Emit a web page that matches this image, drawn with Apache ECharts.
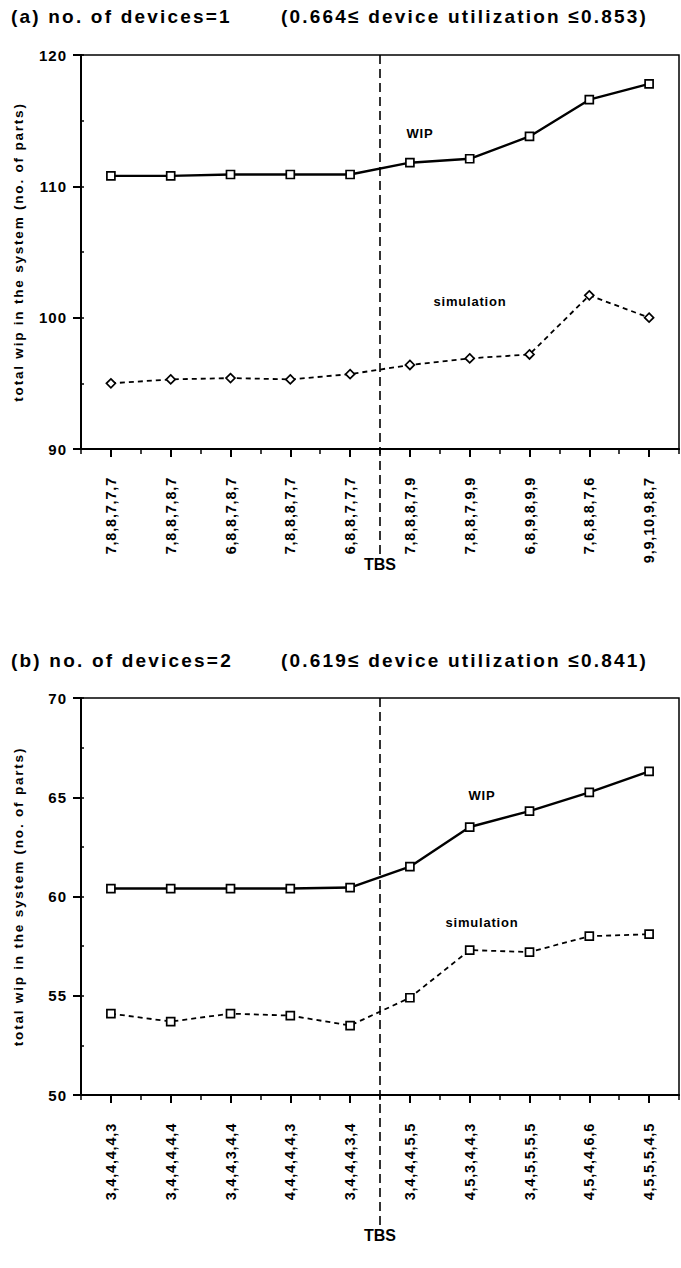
<!DOCTYPE html>
<html>
<head>
<meta charset="utf-8">
<script src="https://cdn.jsdelivr.net/npm/echarts@6/dist/echarts.min.js"></script>
<style>
  html, body { margin: 0; padding: 0; background: #fff; }
  #chart { width: 681px; height: 1268px; }
</style>
</head>
<body>
<div id="chart"></div>
<script>
// TBS configurations (one per evaluated point)
const catsA = ['7,8,8,7,7,7', '7,8,8,7,8,7', '6,8,8,7,8,7', '7,8,8,8,7,7', '6,8,8,7,7,7',
               '7,8,8,8,7,9', '7,8,8,7,9,9', '6,8,9,8,9,9', '7,6,8,8,7,6', '9,9,10,9,8,7'];
const catsB = ['3,4,4,4,4,3', '3,4,4,4,4,4', '3,4,4,3,4,4', '4,4,4,4,4,3', '3,4,4,4,3,4',
               '3,4,4,4,5,5', '4,5,3,4,4,3', '3,4,5,5,5,5', '4,5,4,4,6,6', '4,5,5,5,4,5'];

// total WIP in the system (no. of parts)
const wipA = [110.8, 110.8, 110.9, 110.9, 110.9, 111.8, 112.1, 113.8, 116.6, 117.8];
const simA = [95.0, 95.3, 95.4, 95.3, 95.7, 96.4, 96.9, 97.2, 101.7, 100.0];
const wipB = [60.4, 60.4, 60.4, 60.4, 60.45, 61.5, 63.5, 64.3, 65.25, 66.3];
const simB = [54.1, 53.7, 54.1, 54.0, 53.5, 54.9, 57.3, 57.2, 58.0, 58.1];

// y-axis ranges
const yRangeA = { min: 90, max: 120, interval: 10 };
const yRangeB = { min: 50, max: 70, interval: 5 };

const FONT = '"Liberation Sans", Arial, Helvetica, sans-serif';
const INK = '#000';

// tracking (letter spacing, px) applied per font size once the SVG is drawn
const TRACKING = { 19: 2.2, 15: 1.0, 14.5: 0.8, 13.5: 1.8, 13: 0.8, 16: 0 };

const chart = echarts.init(document.getElementById('chart'), null, { renderer: 'svg' });

const grids = [
  { left: 81, top: 55, width: 598, height: 394 },
  { left: 81, top: 698, width: 598, height: 397 }
];

function catAxes(gridIndex, cats) {
  return [
    {
      type: 'category', gridIndex, data: cats, boundaryGap: true, position: 'bottom',
      axisLine: { show: true, onZero: false, lineStyle: { color: INK, width: 2 } },
      axisTick: { show: true, interval: 0, inside: false, alignWithLabel: true, length: 8, lineStyle: { color: INK, width: 2 } },
      axisLabel: {
        show: true, rotate: 90, margin: 28, color: INK, fontFamily: FONT,
        fontWeight: 'bold', fontSize: 14.5, interval: 0
      },
      splitLine: { show: false }
    },
    {
      // short ticks between configurations
      type: 'category', gridIndex, data: cats, boundaryGap: true, position: 'bottom',
      axisLine: { show: false, onZero: false },
      axisTick: { show: true, interval: 0, inside: false, length: 5, lineStyle: { color: INK, width: 1.5 } },
      axisLabel: { show: false },
      splitLine: { show: false }
    }
  ];
}

function valAxes(gridIndex, r) {
  return [
    {
      type: 'value', gridIndex, position: 'left', min: r.min, max: r.max, interval: r.interval,
      name: 'total wip in the system (no. of parts)',
      nameLocation: 'middle', nameGap: 56, nameRotate: 90,
      nameTextStyle: { color: INK, fontFamily: FONT, fontWeight: 'bold', fontSize: 13.5 },
      axisLine: { show: true, onZero: false, lineStyle: { color: INK, width: 2 } },
      axisTick: { show: true, length: 8, lineStyle: { color: INK, width: 2 } },
      axisLabel: { color: INK, fontFamily: FONT, fontWeight: 'bold', fontSize: 15, margin: 14 },
      splitLine: { show: false }
    },
    {
      // small inner ticks at the half steps
      type: 'value', gridIndex, position: 'left', offset: 0,
      min: r.min, max: r.max, interval: r.interval / 2,
      axisLine: { show: false, onZero: false },
      axisTick: { show: true, inside: true, length: 3, lineStyle: { color: INK, width: 1.5 } },
      axisLabel: { show: false },
      splitLine: { show: false }
    }
  ];
}

function lineSeries(name, data, xIdx, yIdx, dashed, symbol) {
  return {
    name, type: 'line', data, xAxisIndex: xIdx, yAxisIndex: yIdx,
    symbol, symbolSize: symbol === 'diamond' ? 9 : 8,
    lineStyle: dashed ? { color: INK, width: 1.8, type: [5, 4] } : { color: INK, width: 2.4 },
    itemStyle: { color: '#fff', borderColor: INK, borderWidth: 1.7 },
    animation: false, silent: true, z: 5
  };
}

const titleStyle = { color: INK, fontFamily: FONT, fontWeight: 'bold', fontSize: 19 };

chart.setOption({
  backgroundColor: '#fff',
  animation: false,
  title: [
    { text: '(a) no. of devices=1', left: 11, top: 7, padding: 0, textStyle: titleStyle },
    { text: '(0.664\u2264 device utilization \u22640.853)', left: 281, top: 7, padding: 0, textStyle: titleStyle },
    { text: '(b) no. of devices=2', left: 11, top: 651, padding: 0, textStyle: titleStyle },
    { text: '(0.619\u2264 device utilization \u22640.841)', left: 281, top: 651, padding: 0, textStyle: titleStyle }
  ],
  grid: grids.map(g => Object.assign({ show: true, borderColor: INK, borderWidth: 1.5, backgroundColor: 'transparent' }, g)),
  xAxis: [...catAxes(0, catsA), ...catAxes(1, catsB)],
  yAxis: [...valAxes(0, yRangeA), ...valAxes(1, yRangeB)],
  series: [
    lineSeries('WIP', wipA, 0, 0, false, 'rect'),
    lineSeries('simulation', simA, 0, 0, true, 'diamond'),
    lineSeries('WIP', wipB, 2, 2, false, 'rect'),
    lineSeries('simulation', simB, 2, 2, true, 'rect')
  ]
});

// TBS divider: a dashed vertical between the 5th and 6th configurations
function divider(xIdx, yIdx, yTop, ext) {
  const x4 = chart.convertToPixel({ xAxisIndex: xIdx }, 4);
  const x5 = chart.convertToPixel({ xAxisIndex: xIdx }, 5);
  const x = (x4 + x5) / 2;
  const top = chart.convertToPixel({ yAxisIndex: yIdx }, yTop);
  return [
    {
      type: 'line', silent: true, z: 10,
      shape: { x1: x, y1: top, x2: x, y2: top + ext },
      style: { stroke: INK, lineWidth: 1.6, lineDash: [9, 5] }
    },
    {
      type: 'text', silent: true, z: 10, x: x, y: top + ext + 1,
      style: { text: 'TBS', fill: INK, font: 'bold 16px ' + FONT, textAlign: 'center', textVerticalAlign: 'top' }
    }
  ];
}

function note(text, x, y) {
  return {
    type: 'text', silent: true, z: 10, x, y,
    style: { text, fill: INK, font: 'bold 13px ' + FONT, textAlign: 'center', textVerticalAlign: 'middle' }
  };
}

chart.setOption({
  graphic: [
    ...divider(0, 0, yRangeA.max, 500),
    ...divider(2, 2, yRangeB.max, 528),
    note('WIP', 420, 133),
    note('simulation', 470, 301),
    note('WIP', 482, 795),
    note('simulation', 482, 922)
  ]
});

// widen the typeset lettering the same way for every text of a given size
function applyTracking() {
  document.querySelectorAll('#chart svg text').forEach(t => {
    const size = parseFloat(getComputedStyle(t).fontSize);
    const key = Object.keys(TRACKING).find(k => Math.abs(parseFloat(k) - size) < 0.01);
    if (key !== undefined) t.setAttribute('letter-spacing', TRACKING[key]);
  });
}
applyTracking();
chart.on('finished', applyTracking);
</script>
</body>
</html>
